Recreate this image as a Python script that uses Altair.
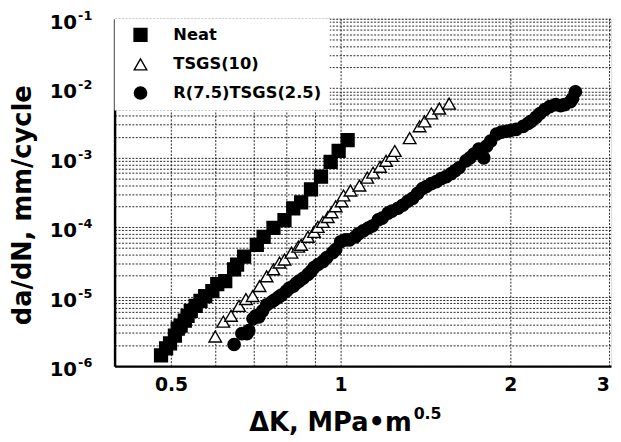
import altair as alt
import pandas as pd

series_names = ["Neat", "TSGS(10)", "R(7.5)TSGS(2.5)"]

neat_k = [0.480, 0.490, 0.498, 0.508, 0.514, 0.520, 0.529, 0.535, 0.542, 0.553,
          0.564, 0.575, 0.592, 0.604, 0.624, 0.647, 0.655, 0.674, 0.710, 0.730,
          0.760, 0.795, 0.824, 0.851, 0.886, 0.923, 0.960, 0.992, 1.029]
neat_r = [1.43e-6, 1.80e-6, 2.12e-6, 2.75e-6, 3.47e-6, 3.82e-6, 4.50e-6, 5.30e-6, 6.24e-6, 7.35e-6,
          8.66e-6, 1.02e-5, 1.20e-5, 1.51e-5, 1.67e-5, 2.47e-5, 2.90e-5, 3.77e-5, 5.58e-5, 7.26e-5,
          9.75e-5, 1.26e-4, 1.87e-4, 2.28e-4, 3.49e-4, 5.33e-4, 8.71e-4, 1.25e-3, 1.79e-3]

tsgs_k = [0.599, 0.619, 0.639, 0.660, 0.679, 0.698, 0.718, 0.739, 0.760, 0.779,
          0.795, 0.818, 0.841, 0.851, 0.875, 0.897, 0.911, 0.930, 0.949, 0.964,
          0.980, 1.004, 1.012, 1.041, 1.080, 1.115, 1.142, 1.175, 1.204, 1.233,
          1.248, 1.326, 1.381, 1.409, 1.449, 1.497, 1.558]
tsgs_r = [2.67e-6, 4.36e-6, 5.30e-6, 7.35e-6, 9.25e-6, 1.02e-5, 1.42e-5, 1.96e-5, 2.47e-5, 3.10e-5,
          3.42e-5, 4.30e-5, 5.24e-5, 5.58e-5, 7.26e-5, 8.55e-5, 1.01e-4, 1.19e-4, 1.40e-4, 1.64e-4,
          2.00e-4, 2.36e-4, 2.86e-4, 3.37e-4, 3.97e-4, 5.16e-4, 6.08e-4, 7.40e-4, 9.01e-4, 1.06e-3,
          1.25e-3, 1.91e-3, 2.83e-3, 3.33e-3, 4.33e-3, 5.09e-3, 6.00e-3]

hyb_k = [0.647, 0.668, 0.682, 0.687, 0.699, 0.707, 0.716, 0.727, 0.739, 0.754,
         0.763, 0.776, 0.785, 0.801, 0.811, 0.824, 0.834, 0.844, 0.858, 0.875,
         0.886, 0.897, 0.912, 0.930, 0.945, 0.968, 0.980, 1.000, 1.020, 1.037,
         1.062, 1.075, 1.097, 1.120, 1.138, 1.166, 1.185, 1.214, 1.233, 1.264,
         1.289, 1.316, 1.342, 1.370, 1.398, 1.420, 1.449, 1.479, 1.509, 1.540,
         1.571, 1.597, 1.623, 1.669, 1.696, 1.724, 1.759, 1.795, 1.816, 1.846,
         1.891, 1.930, 1.969, 2.009, 2.050, 2.109, 2.152, 2.178, 2.222, 2.259,
         2.305, 2.351, 2.409, 2.458, 2.498, 2.559, 2.580, 2.611]
hyb_r = [2.05e-6, 2.94e-6, 2.94e-6, 3.25e-6, 4.81e-6, 5.30e-6, 5.13e-6, 6.25e-6, 7.60e-6, 8.38e-6,
         8.95e-6, 9.87e-6, 1.05e-5, 1.20e-5, 1.33e-5, 1.41e-5, 1.56e-5, 1.67e-5, 1.84e-5, 2.09e-5,
         2.31e-5, 2.63e-5, 2.90e-5, 3.20e-5, 3.65e-5, 4.30e-5, 4.74e-5, 6.16e-5, 6.58e-5, 6.58e-5,
         7.26e-5, 8.00e-5, 8.83e-5, 9.74e-5, 1.04e-4, 1.27e-4, 1.35e-4, 1.59e-4, 1.70e-4, 1.87e-4,
         2.07e-4, 2.36e-4, 2.60e-4, 3.06e-4, 3.60e-4, 3.85e-4, 4.24e-4, 4.53e-4, 5.00e-4, 5.34e-4,
         5.89e-4, 6.49e-4, 7.16e-4, 9.01e-4, 9.94e-4, 1.13e-3, 1.33e-3, 9.94e-4, 1.47e-3, 1.73e-3,
         2.18e-3, 2.33e-3, 2.40e-3, 2.48e-3, 2.56e-3, 2.83e-3, 3.12e-3, 3.33e-3, 3.80e-3, 4.33e-3,
         4.94e-3, 5.44e-3, 5.81e-3, 5.62e-3, 5.81e-3, 6.41e-3, 7.07e-3, 8.89e-3]

x_grid_vals = [0.5, 0.6, 0.7, 0.8, 0.9, 1, 2, 3]
y_grid_vals = [1e-6, 2e-6, 3e-6, 4e-6, 5e-6, 6e-6, 7e-6, 8e-6, 9e-6,
               1e-5, 2e-5, 3e-5, 4e-5, 5e-5, 6e-5, 7e-5, 8e-5, 9e-5,
               1e-4, 2e-4, 3e-4, 4e-4, 5e-4, 6e-4, 7e-4, 8e-4, 9e-4,
               1e-3, 2e-3, 3e-3, 4e-3, 5e-3, 6e-3, 7e-3, 8e-3, 9e-3, 1e-2,
               2e-2, 3e-2, 4e-2, 5e-2, 6e-2, 7e-2, 8e-2, 9e-2, 1e-1]
decade_vals = [1e-6, 1e-5, 1e-4, 1e-3, 1e-2, 1e-1]
decade_exps = ["-6", "-5", "-4", "-3", "-2", "-1"]

rows = []
for name, ks, rs in [(series_names[0], neat_k, neat_r),
                     (series_names[1], tsgs_k, tsgs_r),
                     (series_names[2], hyb_k, hyb_r)]:
    for k, r in zip(ks, rs):
        rows.append({"dK": k, "rate": r, "series": name})
df = pd.DataFrame(rows)
ydf = pd.DataFrame({"v": decade_vals, "base": ["10"] * len(decade_vals), "exp": decade_exps})

FONT = "DejaVu Sans"
W, H = 503, 352

x_scale = alt.Scale(type="log", domain=[0.397, 3.02], nice=False)
y_scale = alt.Scale(type="log", domain=[1e-6, 1e-1], nice=False)

GRID = dict(gridColor="#111111", gridDash=[2, 1.5], gridWidth=1, gridOpacity=0.9)

x_axis = alt.Axis(values=x_grid_vals, grid=True, ticks=False, title=None,
                  labelExpr="(datum.value == 0.5 || datum.value == 1 || datum.value == 2 || datum.value == 3) ? format(datum.value, '~g') : ''",
                  labelOverlap=False, labelFlush=6, labelFont=FONT, labelFontWeight="bold",
                  labelFontSize=19, labelColor="black", labelPadding=10,
                  domainColor="black", domainWidth=2.5, **GRID)
y_axis = alt.Axis(values=y_grid_vals, grid=True, ticks=False, labels=False, title=None,
                  domainColor="black", domainWidth=2.5, **GRID)

leg = alt.Legend(title=None, orient="top-left", offset=0, fillColor="white",
                 padding=8, symbolOffset=10, labelOffset=25, rowPadding=11,
                 labelFont=FONT, labelFontWeight="bold", labelFontSize=16.5,
                 labelColor="black", labelLimit=400, symbolStrokeWidth=1.4)

points = alt.Chart(df).mark_point(filled=True, strokeWidth=1.4, opacity=1).encode(
    x=alt.X("dK:Q", scale=x_scale, axis=x_axis),
    y=alt.Y("rate:Q", scale=y_scale, axis=y_axis),
    shape=alt.Shape("series:N", scale=alt.Scale(domain=series_names, range=["square", "triangle-up", "circle"]), legend=leg),
    fill=alt.Fill("series:N", scale=alt.Scale(domain=series_names, range=["black", "white", "black"]), legend=leg),
    stroke=alt.Stroke("series:N", scale=alt.Scale(domain=series_names, range=["black", "black", "black"]), legend=leg),
    size=alt.Size("series:N", scale=alt.Scale(domain=series_names, range=[170, 155, 270]), legend=leg),
)

base_lbl = alt.Chart(ydf).mark_text(align="right", baseline="middle", font=FONT, fontWeight="bold",
                                    fontSize=20, color="black", dy=4).encode(
    y=alt.Y("v:Q", scale=y_scale, axis=y_axis),
    x=alt.value(-38),
    text="base:N",
)
exp_lbl = alt.Chart(ydf).mark_text(align="left", baseline="middle", font=FONT, fontWeight="bold",
                                   fontSize=13, color="black", dy=-3).encode(
    y=alt.Y("v:Q", scale=y_scale, axis=y_axis),
    x=alt.value(-37),
    text="exp:N",
)

ytitle = alt.Chart(pd.DataFrame({"t": ["da/dN,  mm/cycle"]})).mark_text(
    angle=270, align="center", baseline="middle", font=FONT, fontWeight="bold", fontSize=26, color="black").encode(
    x=alt.value(-93), y=alt.value(189), text="t:N")

xtitle = alt.Chart(pd.DataFrame({"t": ["ΔK,  MPa•m"]})).mark_text(
    align="right", baseline="alphabetic", font=FONT, fontWeight="bold", fontSize=26, color="black").encode(
    x=alt.value(301), y=alt.value(H + 66), text="t:N")
xsup = alt.Chart(pd.DataFrame({"t": ["0.5"]})).mark_text(
    align="left", baseline="alphabetic", font=FONT, fontWeight="bold", fontSize=16, color="black").encode(
    x=alt.value(303), y=alt.value(H + 54), text="t:N")

chart = alt.layer(points, base_lbl, exp_lbl, ytitle, xtitle, xsup).properties(
    width=W, height=H,
    padding={"left": 108, "top": 8, "right": 2, "bottom": 74},
    autosize="none",
).configure_view(stroke="black", strokeWidth=2.5).configure(background="white")

chart.save("out.html", embed_options={"renderer": "svg", "actions": False})
